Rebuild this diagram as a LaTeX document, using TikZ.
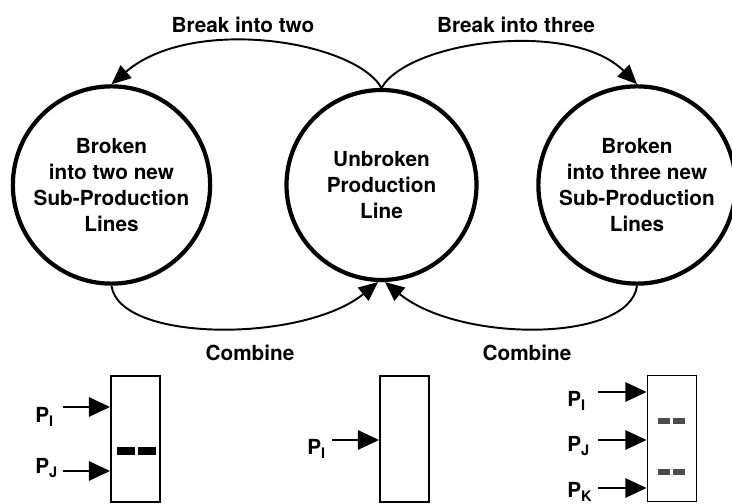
\documentclass[tikz,border=0pt]{standalone}
\usepackage{fontspec}
\setmainfont{TeX Gyre Heros}
\usetikzlibrary{arrows.meta}

\begin{document}
\begin{tikzpicture}[
    stage/.style={draw, circle, minimum size=3.8cm, line width=2.4pt, align=center, font=\fontsize{11.8}{14.8}\selectfont\bfseries},
    lane/.style={draw, minimum width=0.98cm, minimum height=2.52cm, line width=1.1pt},
    flow/.style={-{Triangle[length=11pt,width=9.5pt]}, line width=1.1pt},
    feed/.style={-{Triangle[length=12pt,width=11pt]}, line width=1.1pt},
    tag/.style={font=\fontsize{11.8}{14}\selectfont\bfseries},
    band/.style={line width=4pt}
  ]
  \useasboundingbox (0,0) rectangle (14.64,10.08);

  \node[stage] (two) at (2.23,6.38) {Broken \\ into two new \\ Sub-Production \\ Lines};
  \node[stage] (one) at (7.63,6.38) {Unbroken \\ Production \\ Line};
  \node[stage] (three) at (12.74,6.38) {Broken \\ into three new \\ Sub-Production \\ Lines};

  \node[tag] (brktwo) at (4.86,9.58) {Break into two};
  \node[tag] (brkthree) at (10.32,9.58) {Break into three};
  \node[tag] (combtwo) at (5.0,3.02) {Combine};
  \node[tag] (combthree) at (10.54,3.02) {Combine};

  \draw[flow] (one.north) .. controls +(-0.55,0.95) and +(1.6,1.38) .. (two.north);
  \draw[flow] (one.north) .. controls +(0.55,0.95) and +(-1.3,1.3) .. (three.north);
  \draw[flow] (two.south) .. controls +(0.15,-1.14) and +(-1.5,-1.22) .. (one.268);
  \draw[flow] (three.south) .. controls +(-0.15,-1.14) and +(1.5,-1.22) .. (one.272);

  \node[lane] (laneL) at (2.71,1.30) {};
  \node[lane] (laneM) at (8.09,1.30) {};
  \node[lane] (laneR) at (13.44,1.31) {};

  \node[tag, anchor=base west, inner sep=0pt] (pL1) at (0.70,1.62) {P\textsubscript{I}};
  \node[tag, anchor=base west, inner sep=0pt] (pL2) at (0.70,0.60) {P\textsubscript{J}};
  \node[tag, anchor=base west, inner sep=0pt] (pM1) at (6.14,0.98) {P\textsubscript{I}};
  \node[tag, anchor=base west, inner sep=0pt] (pR1) at (11.34,1.94) {P\textsubscript{I}};
  \node[tag, anchor=base west, inner sep=0pt] (pR2) at (11.34,1.04) {P\textsubscript{J}};
  \node[tag, anchor=base west, inner sep=0pt] (pR3) at (11.34,0.12) {P\textsubscript{K}};

  \coordinate (aL1) at (1.26,1.94);
  \coordinate (aL2) at (1.26,0.66);
  \coordinate (aM1) at (6.64,1.28);
  \coordinate (aR1) at (11.96,2.24);
  \coordinate (aR2) at (11.96,1.28);
  \coordinate (aR3) at (11.96,0.32);

  \draw[feed] (aL1) -- (aL1 -| laneL.west);
  \draw[feed] (aL2) -- (aL2 -| laneL.west);
  \draw[feed] (aM1) -- (aM1 -| laneM.west);
  \draw[feed] (aR1) -- (aR1 -| laneR.west);
  \draw[feed] (aR2) -- (aR2 -| laneR.west);
  \draw[feed] (aR3) -- (aR3 -| laneR.west);

  \draw[band] (2.34,1.06) -- (2.70,1.06);
  \draw[band] (2.76,1.06) -- (3.12,1.06);
  \draw[band, line width=3pt, black!70] (13.16,1.66) -- (13.40,1.66);
  \draw[band, line width=3pt, black!70] (13.46,1.66) -- (13.70,1.66);
  \draw[band, line width=3pt, black!70] (13.16,0.64) -- (13.40,0.64);
  \draw[band, line width=3pt, black!70] (13.46,0.64) -- (13.70,0.64);

\end{tikzpicture}
\end{document}
